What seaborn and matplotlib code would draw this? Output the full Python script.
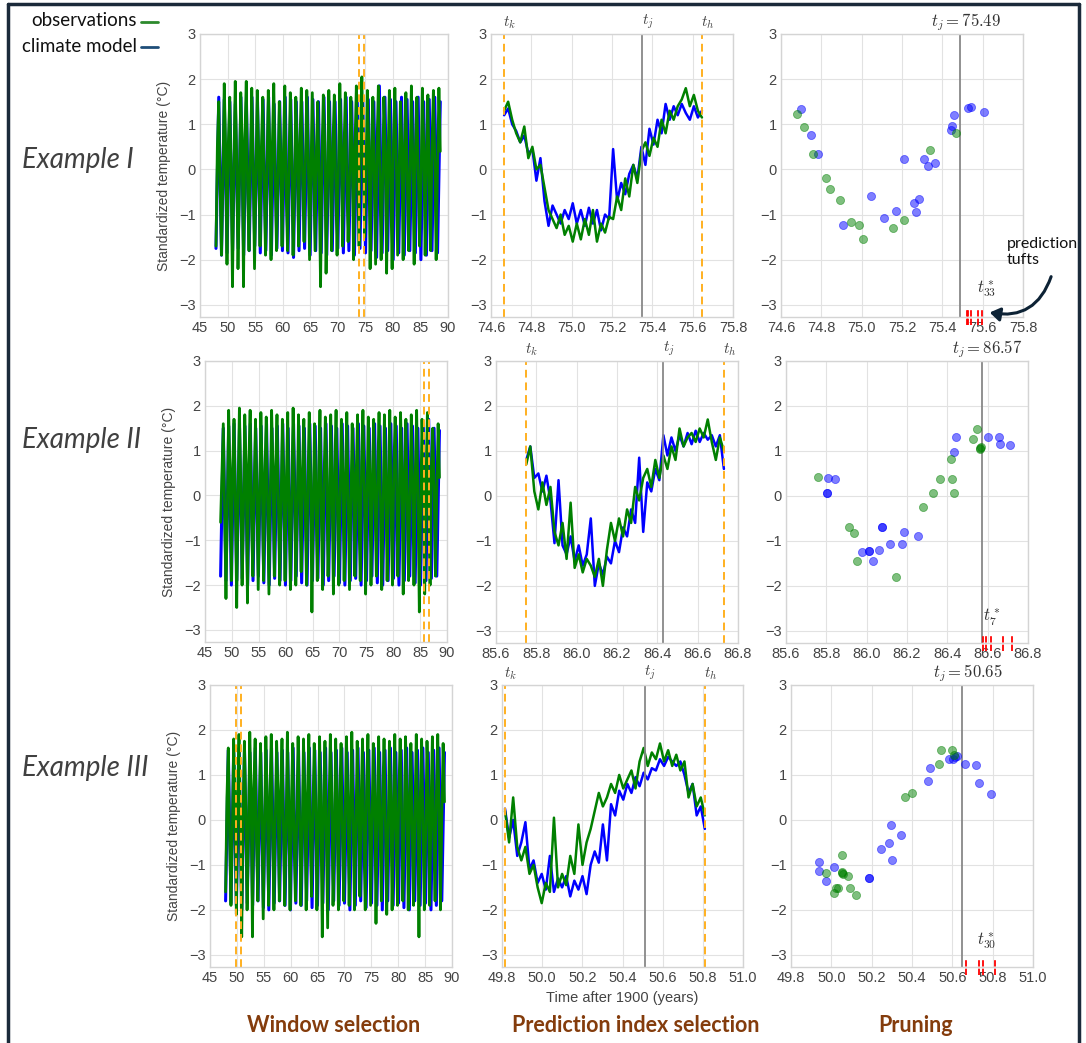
import numpy as np
import matplotlib
matplotlib.use("Agg")
import matplotlib.pyplot as plt
import seaborn as sns

# ---------------- data ----------------
# long record (left column): yearly troughs / peaks, 1948..1988
years = list(range(48, 89))

obs_peak_1 = [1.5, 1.9, 1.6, 1.95, 1.7, 1.95, 1.8, 1.75, 1.6, 1.75, 1.9, 1.5, 1.85, 1.7, 1.6, 1.8, 1.75, 1.7, 1.5, 1.65, 1.75,
              1.65, 1.9, 1.7, 1.6, 1.85, 2.05, 1.75, 1.6, 1.85, 1.6, 1.75, 1.8, 1.5, 1.7, 1.85, 1.6, 1.8, 1.65, 1.75, 1.8]
obs_trough_1 = [-1.7, -1.9, -2.1, -2.6, -2.2, -2.6, -1.8, -2.2, -1.7, -1.9, -2.0, -1.8, -1.7, -1.8, -1.9, -1.7, -1.6, -2.0, -1.8, -2.6, -2.3,
                -1.8, -1.9, -1.7, -1.6, -2.0, -1.7, -1.5, -2.2, -2.1, -2.0, -2.3, -2.2, -1.9, -2.0, -1.8, -2.1, -1.7, -1.9, -1.8, -2.0]
mod_peak_1 = [1.6, 1.55, 1.5, 1.45, 1.6, 1.5, 1.6, 1.5, 1.55, 1.6, 1.45, 1.5, 1.6, 1.55, 1.5, 1.5, 1.6, 1.55, 1.5, 1.6, 1.5,
              1.5, 1.55, 1.6, 1.5, 1.55, 1.6, 1.55, 1.5, 1.85, 1.6, 1.55, 1.5, 1.6, 1.55, 1.5, 1.6, 1.5, 1.55, 1.6, 1.5]
mod_trough_1 = [-1.75, -1.9, -1.85, -1.8, -1.75, -1.9, -1.8, -1.7, -1.85, -1.8, -1.9, -1.75, -1.8, -1.85, -1.95, -1.8, -1.75, -1.9, -1.8, -1.85, -1.9,
                -1.8, -1.75, -1.85, -1.8, -1.9, -1.75, -1.85, -1.8, -1.95, -1.85, -1.8, -2.0, -1.85, -1.9, -1.8, -1.85, -2.0, -1.9, -1.8, -1.85]

obs_peak_2 = [1.6, 1.9, 1.7, 1.95, 1.8, 1.9, 1.7, 1.85, 1.75, 1.9, 1.8, 1.7, 1.85, 1.95, 1.8, 1.7, 1.85, 1.6, 1.9, 1.75, 1.8,
              1.9, 1.7, 1.85, 1.6, 1.8, 1.9, 1.75, 1.7, 1.85, 1.8, 1.9, 1.75, 1.85, 1.7, 1.8, 1.9, 1.7, 1.85, 1.5, 1.6]
obs_trough_2 = [-0.6, -2.3, -1.9, -2.5, -2.0, -2.4, -1.8, -2.1, -1.9, -2.2, -1.8, -2.0, -1.9, -2.1, -2.0, -1.7, -2.0, -2.6, -1.9, -2.1, -1.8,
                -2.2, -2.0, -1.9, -2.1, -1.8, -1.9, -2.2, -2.0, -1.8, -2.1, -1.9, -2.0, -1.8, -2.2, -1.9, -2.0, -2.6, -2.2, -2.0, -1.8]
mod_peak_2 = [1.5, 1.55, 1.6, 1.5, 1.55, 1.6, 1.5, 1.55, 1.6, 1.5, 1.55, 1.6, 1.5, 1.6, 1.55, 1.5, 1.6, 1.55, 1.5, 1.6, 1.55,
              1.5, 1.6, 1.55, 1.5, 1.6, 1.55, 1.5, 1.6, 1.55, 1.5, 1.6, 1.55, 1.5, 1.6, 1.55, 1.5, 1.6, 1.7, 1.5, 1.45]
mod_trough_2 = [-1.8, -1.9, -2.0, -1.9, -1.85, -2.0, -1.9, -1.8, -1.95, -2.0, -1.85, -1.9, -2.0, -1.9, -1.8, -1.95, -2.0, -1.9, -1.85, -2.0, -1.9,
                -1.8, -1.95, -2.0, -1.9, -1.85, -2.0, -1.9, -1.8, -1.95, -2.0, -1.9, -1.85, -2.0, -1.9, -1.8, -1.95, -2.0, -1.9, -1.85, -1.8]

obs_peak_3 = [1.6, 1.8, 1.9, 1.75, 1.95, 1.8, 1.7, 1.85, 1.9, 1.75, 1.8, 1.95, 1.7, 1.85, 1.8, 1.9, 1.7, 1.85, 1.75, 1.9, 1.8,
              1.7, 1.85, 1.95, 1.75, 1.8, 1.9, 1.7, 1.85, 1.8, 1.75, 1.9, 1.8, 1.85, 1.7, 1.9, 1.8, 1.75, 1.85, 1.9, 1.7]
obs_trough_3 = [-1.6, -1.9, -2.1, -2.6, -2.0, -2.6, -1.8, -2.2, -1.9, -2.0, -1.8, -1.9, -2.0, -1.8, -1.9, -2.0, -1.7, -2.0, -2.6, -2.4, -1.9,
                -2.0, -1.8, -1.9, -2.0, -1.7, -2.0, -1.9, -2.3, -1.8, -2.1, -2.0, -1.9, -1.8, -2.0, -1.9, -2.6, -2.0, -1.9, -1.8, -2.0]
mod_peak_3 = [1.55, 1.5, 1.6, 1.55, 1.5, 1.6, 1.5, 1.55, 1.6, 1.5, 1.55, 1.5, 1.6, 1.55, 1.5, 1.6, 1.55, 1.5, 1.6, 1.5, 1.55,
              1.6, 1.5, 1.55, 1.6, 1.5, 1.55, 1.6, 1.5, 1.55, 1.6, 1.5, 1.55, 1.6, 1.5, 1.55, 1.6, 1.5, 1.55, 1.6, 1.5]
mod_trough_3 = [-1.8, -1.85, -1.9, -2.0, -1.85, -1.9, -1.8, -1.95, -2.0, -1.85, -1.8, -1.9, -2.0, -1.85, -1.9, -1.8, -1.95, -1.9, -1.85, -2.0, -1.8,
                -1.9, -1.85, -2.0, -1.9, -1.8, -1.95, -1.85, -1.9, -2.0, -1.8, -1.9, -1.85, -1.95, -2.0, -1.8, -1.9, -1.85, -2.0, -1.9, -1.8]

# noisy shoulders around the zero crossing (rising, falling) for the observations
obs_rise = [0.5, -0.3, 0.6, 0.1, -0.4, 0.7, 0.2, -0.2, 0.5, 0.0, 0.6, -0.3, 0.4, 0.1, -0.5, 0.6, 0.2, -0.2, 0.5, 0.3, -0.4,
            0.6, 0.0, 0.4, -0.3, 0.5, 0.7, -0.1, 0.3, 0.5, -0.4, 0.2, 0.6, -0.2, 0.4, 0.1, 0.5, -0.3, 0.3, 0.6, 0.0]
obs_fall = [-0.4, 0.5, -0.2, 0.3, 0.6, -0.5, 0.1, 0.4, -0.3, 0.6, -0.1, 0.3, -0.5, 0.2, 0.5, -0.3, 0.4, 0.0, -0.4, 0.6, 0.2,
            -0.3, 0.5, -0.1, 0.4, -0.5, 0.2, 0.6, -0.2, 0.0, 0.5, -0.4, 0.3, 0.6, -0.3, 0.2, -0.1, 0.5, -0.4, 0.2, 0.4]

# window markers drawn on the long record
window_marks = [[73.9, 74.8], [85.65, 86.72], [49.9, 50.7]]

# one-year windows (middle column)
t_k = [74.665, 85.75, 49.815]
t_j = [75.35, 86.43, 50.51]
t_h = [75.646, 86.73, 50.81]

win_mod_1 = [1.2, 1.35, 1.0, 0.85, 0.6, 0.75, 0.35, 0.45, -0.25, 0.25, -0.7, -1.25, -0.8, -1.0, -1.2, -0.9, -1.1, -0.75, -1.2, -0.9,
             -1.25, -0.85, -1.2, -0.9, -1.35, -1.0, -1.1, 0.45, -0.7, -0.3, -0.55, -0.1, 0.1, -0.2, 0.5, 0.1, 0.9, 0.55, 1.1, 0.8,
             1.45, 1.1, 1.4, 1.2, 1.45, 1.25, 1.1, 1.4, 1.15, 1.3]
win_obs_1 = [1.3, 1.5, 1.1, 0.8, 0.6, 0.95, 0.25, 0.5, 0.0, 0.1, -0.4, -0.9, -1.1, -1.3, -1.0, -1.45, -1.25, -1.6, -1.2, -1.55,
             -1.1, -1.45, -0.9, -1.6, -1.2, -1.4, -1.05, -1.1, -0.6, -0.9, -0.2, -0.6, 0.1, -0.3, 0.4, 0.6, 0.3, 0.7, 0.5, 1.1,
             0.8, 1.3, 1.1, 1.4, 1.55, 1.8, 1.4, 1.65, 1.3, 1.15]
win_mod_2 = [0.8, 1.1, 0.4, 0.5, 0.1, 0.45, -0.1, -1.05, 0.35, -1.1, -1.3, -0.9, -1.45, -1.1, -1.55, -1.3, -0.5, -2.0, -1.5, -1.75,
             -1.35, -1.5, -1.0, -1.25, -0.7, -0.9, -0.3, -0.6, 0.85, -0.8, 0.3, 0.1, 0.6, 0.35, 1.35, 0.9, 1.3, 1.0, 1.35, 1.1,
             1.4, 1.15, 1.45, 1.2, 1.4, 1.25, 1.35, 1.1, 1.35, 0.6]
win_obs_2 = [0.7, 1.1, 0.1, -0.3, 0.3, -0.2, 0.2, -0.8, -1.1, -0.6, -1.4, -0.15, -1.6, -1.3, -1.7, -1.4, -1.55, -1.8, -1.4, -2.0,
             -1.2, -0.6, -1.0, -0.5, -0.9, -0.3, -0.6, 0.2, -0.1, 0.4, 0.6, 0.2, 0.8, 0.4, 0.9, 0.6, 1.1, 0.8, 1.5, 1.1,
             1.3, 1.4, 1.2, 1.5, 1.3, 1.7, 1.2, 0.8, 1.3, 1.0]
win_mod_3 = [0.25, -0.4, 0.0, -0.8, -0.5, -0.05, -1.1, -0.9, -1.4, -1.2, -1.55, -0.8, -1.6, -1.3, -1.5, -1.25, -1.7, -1.35, -1.55, -1.25,
             -1.65, -1.0, -0.7, -0.95, -0.1, -0.9, 0.35, 0.1, 0.65, 0.45, 0.8, 0.6, 0.95, 0.75, 1.05, 0.9, 1.15, 1.1, 1.35, 1.2,
             1.4, 1.3, 1.2, 1.3, 1.0, 0.6, 0.8, 0.1, 0.3, -0.2]
win_obs_3 = [0.2, -0.5, 0.5, -0.6, -0.9, -0.6, -1.2, -1.0, -1.5, -1.85, -1.4, -1.6, 0.05, -1.5, -1.2, -1.45, -0.8, -1.2, -0.1, -1.0,
             -0.5, -0.2, 0.2, 0.6, 0.3, 0.5, 0.8, 0.6, 1.0, 0.7, 0.9, 1.1, 0.7, 1.3, 1.6, 1.2, 1.5, 1.35, 1.7, 1.3,
             1.55, 1.2, 1.45, 1.1, 1.3, 0.5, 0.8, 0.3, 0.5, 0.1]

# pruned points (right column)
prune_tj = [75.49, 86.57, 50.65]
tuft_label = [r"$t^*_{33}$", r"$t^*_{7}$", r"$t^*_{30}$"]
tuft_label_pos = [(75.62, -2.67), (86.62, -2.69), (50.77, -2.71)]
tufts = [[75.521, 75.529, 75.542, 75.578, 75.595],
         [86.578, 86.590, 86.618, 86.675, 86.719],
         [50.668, 50.734, 50.754, 50.812]]

p_obs_x_1 = [74.679, 74.715, 74.758, 74.824, 74.841, 74.893, 74.949, 74.989, 75.005, 75.157, 75.208, 75.340, 75.470]
p_obs_y_1 = [1.23, 0.94, 0.35, -0.18, -0.43, -0.67, -1.16, -1.24, -1.55, -1.29, -1.13, 0.43, 0.81]
p_mod_x_1 = [74.699, 74.748, 74.781, 74.907, 75.048, 75.109, 75.169, 75.208, 75.259, 75.268, 75.284, 75.309, 75.329, 75.362,
             75.441, 75.447, 75.459, 75.528, 75.541, 75.607]
p_mod_y_1 = [1.33, 0.77, 0.35, -1.24, -0.58, -1.07, -0.92, 0.24, -0.75, -0.94, -0.66, 0.24, 0.08, 0.15,
             0.88, 0.97, 1.20, 1.35, 1.38, 1.27]

p_obs_x_2 = [85.757, 85.910, 85.938, 85.950, 86.145, 86.277, 86.331, 86.366, 86.420, 86.425, 86.432, 86.529, 86.548, 86.561, 86.569, 86.563]
p_obs_y_2 = [0.42, -0.69, -0.83, -1.44, -1.81, -0.24, 0.07, 0.37, 0.81, 0.37, 0.07, 1.27, 1.49, 1.05, 1.09, 1.06]
p_mod_x_2 = [85.806, 85.841, 85.801, 85.801, 85.978, 86.014, 86.014, 86.032, 86.059, 86.075, 86.075, 86.115, 86.174, 86.186, 86.257,
             86.434, 86.444, 86.602, 86.656, 86.661, 86.713]
p_mod_y_2 = [0.40, 0.37, 0.07, 0.07, -1.24, -1.22, -1.22, -1.44, -1.20, -0.69, -0.69, -1.07, -1.06, -0.81, -0.88,
             0.98, 1.30, 1.30, 1.30, 1.15, 1.13]

p_obs_x_3 = [49.975, 50.013, 50.021, 50.034, 50.051, 50.051, 50.058, 50.084, 50.094, 50.124, 50.363, 50.399, 50.533, 50.546,
             50.599, 50.610, 50.054]
p_obs_y_3 = [-1.17, -1.62, -1.51, -1.51, -0.78, -1.16, -1.20, -1.24, -1.51, -1.66, 0.52, 0.59, 1.25, 1.55,
             1.55, 1.45, -1.18]
p_mod_x_3 = [49.937, 49.937, 49.975, 50.015, 50.188, 50.188, 50.244, 50.287, 50.294, 50.299, 50.343, 50.478, 50.490, 50.582,
             50.604, 50.612, 50.622, 50.665, 50.719, 50.731, 50.790]
p_mod_y_3 = [-0.93, -1.14, -1.36, -1.05, -1.29, -1.29, -0.65, -0.51, -0.11, -0.90, -0.33, 0.86, 1.15, 1.35,
             1.35, 1.41, 1.42, 1.25, 1.23, 0.82, 0.57]

row_names = ["Example I", "Example II", "Example III"]
col_titles = ["Window selection", "Prediction index selection", "Pruning"]

# ---------------- style ----------------
sns.set_style("whitegrid", {"grid.color": "#e2e2e2", "axes.edgecolor": "#d4d4d4"})
plt.rcParams["font.family"] = ["Liberation Sans", "DejaVu Sans"]
plt.rcParams["mathtext.fontset"] = "cm"
plt.rcParams["xtick.color"] = "#444444"
plt.rcParams["ytick.color"] = "#444444"
plt.rcParams["axes.labelcolor"] = "#444444"

GREEN = "#008000"
BLUE = "#0000ff"
ORANGE = "#ffb020"

W, H = 1086, 1043
fig = plt.figure(figsize=(W / 100, H / 100), dpi=100)


def box(l, t, r, b):
    return [l / W, 1 - b / H, (r - l) / W, (b - t) / H]


left_boxes = [box(200, 34, 448, 317), box(205, 361, 447, 642), box(210, 685, 452, 967)]
mid_boxes = [box(491, 34, 733, 317), box(496, 361, 738, 643), box(502, 685, 743, 967)]
right_boxes = [box(781, 34, 1023, 317), box(786, 361, 1028, 643), box(791, 685, 1033, 967)]
xlims = [(74.6, 75.8), (85.6, 86.8), (49.8, 51.0)]

long_obs = [(obs_trough_1, obs_peak_1), (obs_trough_2, obs_peak_2), (obs_trough_3, obs_peak_3)]
long_mod = [(mod_trough_1, mod_peak_1), (mod_trough_2, mod_peak_2), (mod_trough_3, mod_peak_3)]
win_obs = [win_obs_1, win_obs_2, win_obs_3]
win_mod = [win_mod_1, win_mod_2, win_mod_3]
p_obs = [(p_obs_x_1, p_obs_y_1), (p_obs_x_2, p_obs_y_2), (p_obs_x_3, p_obs_y_3)]
p_mod = [(p_mod_x_1, p_mod_y_1), (p_mod_x_2, p_mod_y_2), (p_mod_x_3, p_mod_y_3)]


def yearly_path(lows, highs, rise=None, fall=None):
    if rise is None:
        vals = np.ravel(np.column_stack([lows, highs]))
    else:
        vals = np.ravel(np.column_stack([lows, rise, highs, fall]))
    t = np.linspace(47.9, 88.6, len(vals))
    return t, vals


def style_axis(ax, xlim, xticks, fmt):
    ax.set_xlim(*xlim)
    ax.set_ylim(-3.27, 3.0)
    ax.set_yticks([-3, -2, -1, 0, 1, 2, 3])
    ax.set_xticks(xticks)
    ax.set_xticklabels([fmt % v for v in xticks])
    ax.tick_params(labelsize=10.5, length=0, pad=3)
    ax.set_xlabel("")
    ax.set_ylabel("")
    for s in ax.spines.values():
        s.set_color("#d4d4d4")
        s.set_linewidth(1.0)


for r in range(3):
    # ---- window selection ----
    ax = fig.add_axes(left_boxes[r])
    t, v = yearly_path(*long_mod[r])
    sns.lineplot(x=t, y=v, ax=ax, color=BLUE, lw=2.2, estimator=None, sort=False)
    t, v = yearly_path(*long_obs[r], obs_rise, obs_fall)
    sns.lineplot(x=t, y=v, ax=ax, color=GREEN, lw=2.0, estimator=None, sort=False)
    for xm in window_marks[r]:
        ax.axvline(xm, color=ORANGE, ls=(0, (4, 2.5)), lw=1.4)
    style_axis(ax, (45, 90), list(range(45, 91, 5)), "%d")
    ax.set_ylabel("Standardized temperature (°C)", fontsize=10, labelpad=6)

    # ---- prediction index selection ----
    ax = fig.add_axes(mid_boxes[r])
    tw = np.linspace(t_k[r], t_h[r], len(win_mod[r]))
    sns.lineplot(x=tw, y=win_mod[r], ax=ax, color=BLUE, lw=1.8, estimator=None, sort=False)
    sns.lineplot(x=tw, y=win_obs[r], ax=ax, color=GREEN, lw=1.8, estimator=None, sort=False)
    for xm, lab in [(t_k[r], r"$t_k$"), (t_h[r], r"$t_h$")]:
        ax.axvline(xm, color=ORANGE, ls=(0, (4, 2.5)), lw=1.4)
        ax.annotate(lab, xy=(xm, 1), xycoords=("data", "axes fraction"), xytext=(4, 2),
                    textcoords="offset points", ha="center", va="bottom", fontsize=11, color="#444444")
    ax.axvline(t_j[r], color="#888888", lw=1.3)
    ax.annotate(r"$t_j$", xy=(t_j[r], 1), xycoords=("data", "axes fraction"), xytext=(4, 2),
                textcoords="offset points", ha="center", va="bottom", fontsize=11, color="#444444")
    ticks = np.round(np.arange(xlims[r][0], xlims[r][1] + 0.01, 0.2), 1)
    style_axis(ax, xlims[r], ticks, "%.1f")
    if r == 2:
        ax.set_xlabel("Time after 1900 (years)", fontsize=10.5, labelpad=4)

    # ---- pruning ----
    ax = fig.add_axes(right_boxes[r])
    sns.scatterplot(x=p_mod[r][0], y=p_mod[r][1], ax=ax, color=BLUE, alpha=0.5, s=34,
                    edgecolor=BLUE, linewidth=0.6, zorder=3)
    sns.scatterplot(x=p_obs[r][0], y=p_obs[r][1], ax=ax, color=GREEN, alpha=0.5, s=34,
                    edgecolor=GREEN, linewidth=0.6, zorder=3)
    ax.axvline(prune_tj[r], color="#888888", lw=1.3)
    ax.annotate(r"$t_j = %.2f$" % prune_tj[r], xy=(prune_tj[r], 1), xycoords=("data", "axes fraction"),
                xytext=(4, 0.5), textcoords="offset points", ha="center", va="bottom", fontsize=12, color="#333333")
    ax.vlines(tufts[r], -3.45, -3.1, colors="red", linestyles=(0, (3.5, 1.2)), lw=1.3, clip_on=False, zorder=4)
    ax.text(*tuft_label_pos[r], tuft_label[r], ha="center", va="center", fontsize=12, color="#333333")
    style_axis(ax, xlims[r], ticks, "%.1f")

# row names
for r, yc in enumerate([160, 440, 768]):
    fig.text(22 / W, 1 - yc / H, row_names[r], fontsize=20, style="italic", color="#404040",
             family=["Lato", "DejaVu Sans"], ha="left", va="center")

# column titles
for c, xc in enumerate([334, 636, 916]):
    fig.text(xc / W, 1 - 1025 / H, col_titles[c], fontsize=15.5, weight="bold", color="#843c0c",
             family=["Lato", "DejaVu Sans"], ha="center", va="center")

# legend in the upper-left corner
for yc, lab, col in [(21, "observations", "#2d8a2d"), (46, "climate model", "#1f4e79")]:
    fig.text(137 / W, 1 - yc / H, lab, fontsize=13.5, ha="right", va="center", color="#111111",
             family=["Lato", "DejaVu Sans"])
    fig.add_artist(plt.Line2D([141 / W, 158 / W], [1 - (yc + 1) / H] * 2, color=col, lw=2))

# prediction tufts callout
fig.text(1007 / W, 1 - 252 / H, "prediction\ntufts", fontsize=11.5, ha="left", va="center",
         color="#111111", family=["Lato", "DejaVu Sans"], linespacing=1.25)
fig.add_artist(matplotlib.patches.FancyArrowPatch(
    (1052 / W, 1 - 274 / H), (987 / W, 1 - 312 / H), transform=fig.transFigure,
    connectionstyle="arc3,rad=-0.45", arrowstyle="-|>,head_length=6,head_width=4",
    color="#0d2235", lw=2.2))

# frame around the figure
frame_col = "#1b2a3a"
for xs, ys in [([8, 8], [4, H]), ([8, 1079], [4, 4]), ([1079, 1079], [4, H])]:
    fig.add_artist(plt.Line2D([x / W for x in xs], [1 - y / H for y in ys], color=frame_col, lw=2.5))

fig.savefig("out.png", dpi=100)
